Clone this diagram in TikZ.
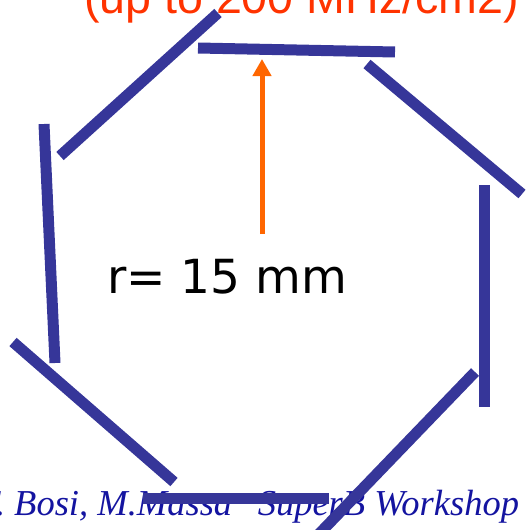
\documentclass[tikz,border=0pt]{standalone}
\usepackage{fontspec}
\usetikzlibrary{arrows.meta}
\newfontfamily\arialfont{Liberation Sans}
\newfontfamily\verdfont{DejaVu Sans}
\newfontfamily\tmsfont{Liberation Serif}
\definecolor{segblue}{RGB}{54,54,153}
\definecolor{toptxt}{RGB}{255,51,0}
\definecolor{arroworange}{RGB}{255,102,0}
\definecolor{foottxt}{RGB}{20,20,160}
\tikzset{
  seg/.style={draw=segblue,line width=11pt,line cap=butt},
  txt/.style={inner sep=0pt,outer sep=0pt}
}
\begin{document}
\begin{tikzpicture}[x=1pt,y=-1pt]
\useasboundingbox (0,0) rectangle (527,530);
% texts
\node[txt,anchor=base west,text=toptxt,font=\arialfont\fontsize{46.6}{50}\selectfont] (top) at (84,13.5) {(up to 200 MHz/cm2)};
\node[txt,anchor=base west,font=\verdfont\fontsize{47}{50}\selectfont] (rlab) at (107,293) {r= 15 mm};
\node[txt,anchor=base east,text=foottxt,font=\tmsfont\itshape\fontsize{36.5}{40}\selectfont] (foot) at (519,515) {F. Bosi, M.Massa\hspace{0.45em} SuperB Workshop};
% octagon segments
\coordinate (t1) at (198,48);  \coordinate (t2) at (395,52);
\coordinate (ul1) at (218,13); \coordinate (ul2) at (60,156);
\coordinate (ur1) at (367,64); \coordinate (ur2) at (522,194);
\coordinate (l1) at (44,124);  \coordinate (l2) at (55,363);
\coordinate (r1) at (484.5,185); \coordinate (r2) at (484.5,407);
\coordinate (ll1) at (13,342); \coordinate (ll2) at (174,482);
\coordinate (b1) at (143,498); \coordinate (b2) at (329,498);
\coordinate (lr1) at (475,372); \coordinate (lr2) at (318,535);
\draw[seg] (t1) -- (t2);
\draw[seg] (ul1) -- (ul2);
\draw[seg] (ur1) -- (ur2);
\draw[seg] (l1) -- (l2);
\draw[seg] (r1) -- (r2);
\draw[seg] (ll1) -- (ll2);
\draw[seg] (b1) -- (b2);
\draw[seg] (lr1) -- (lr2);
% arrow
\coordinate (a0) at (262,234);
\coordinate (a1) at (262,59);
\draw[arroworange,line width=5pt,-{Triangle[width=18pt,length=17pt]}] (a0) -- (a1);
\end{tikzpicture}
\end{document}
